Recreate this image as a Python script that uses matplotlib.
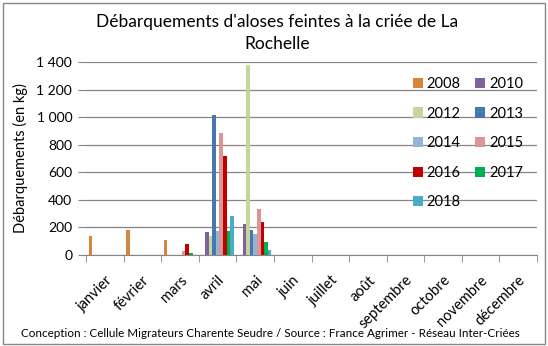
import numpy as np
import matplotlib
matplotlib.use('Agg')
from matplotlib import pyplot as plt
from matplotlib.patches import Rectangle

plt.rcParams['font.family'] = ['Lato', 'DejaVu Sans']

mois = ['janvier', 'février', 'mars', 'avril', 'mai', 'juin', 'juillet',
        'août', 'septembre', 'octobre', 'novembre', 'décembre']
annees = ['2008', '2010', '2012', '2013', '2014', '2015', '2016', '2017', '2018']
couleurs = ['#D9843B', '#7D6399', '#C3D69B', '#4A76B0', '#95B3D7',
            '#D99694', '#C00000', '#00B050', '#4BACC6']

# kg debarques par mois (jan -> dec), une liste par annee
v2008 = [140, 181, 110, 0, 0, 0, 0, 0, 0, 0, 0, 0]
v2010 = [0, 0, 0, 169, 227, 0, 0, 0, 0, 0, 0, 0]
v2012 = [0, 0, 0, 138, 1380, 0, 0, 0, 0, 0, 0, 0]
v2013 = [0, 0, 0, 1015, 181, 0, 0, 0, 0, 0, 0, 0]
v2014 = [0, 0, 0, 174, 155, 0, 0, 0, 0, 0, 0, 0]
v2015 = [0, 0, 31, 887, 334, 0, 0, 0, 0, 0, 0, 0]
v2016 = [0, 0, 82, 718, 239, 0, 0, 0, 0, 0, 0, 0]
v2017 = [0, 0, 17, 174, 94, 0, 0, 0, 0, 0, 0, 0]
v2018 = [0, 0, 0, 285, 36, 0, 0, 0, 0, 0, 0, 0]
series = [v2008, v2010, v2012, v2013, v2014, v2015, v2016, v2017, v2018]

fig = plt.figure(figsize=(5.48, 3.46), dpi=100)
ax = fig.add_axes([0.157, 0.263, 0.823, 0.558])

x = np.arange(len(mois))
n = len(series)
w = 1.0 / (n + 1.5)
handles = []
for i in range(n):
    pos = x - 0.5 + 0.75 * w + (i + 0.5) * w
    b = ax.bar(pos, series[i], width=w, color=couleurs[i], label=annees[i], zorder=3)
    handles.append(b)

ax.set_xlim(-0.5, len(mois) - 0.5)
ax.set_ylim(0, 1400)
ax.set_yticks(range(0, 1401, 200))
ax.set_yticklabels(['0', '200', '400', '600', '800', '1 000', '1 200', '1 400'], fontsize=10)
ax.yaxis.grid(True, color='#868686', linewidth=0.9, zorder=0)
ax.tick_params(axis='y', length=6, color='#868686', pad=4)

ax.set_xticks(x)
ax.set_xticklabels(mois, rotation=45, ha='right', rotation_mode='anchor', fontsize=10.5)
ax.set_xticks(np.arange(-0.5, len(mois)), minor=True)
ax.tick_params(axis='x', which='major', length=0, pad=13)
ax.tick_params(axis='x', which='minor', length=5, color='#868686')

for s in ['top', 'right', 'left']:
    ax.spines[s].set_visible(False)
ax.spines['bottom'].set_color('#868686')

ax.set_ylabel('Débarquements (en kg)', fontsize=10.5, labelpad=6)

order = [0, 2, 4, 6, 8, 1, 3, 5, 7]
leg = ax.legend([handles[k] for k in order], [annees[k] for k in order],
                ncol=2, loc='upper left', bbox_to_anchor=(0.695, 0.99),
                frameon=False, fontsize=10.5, handlelength=0.7, handleheight=0.7,
                handletextpad=0.25, columnspacing=1.0, labelspacing=1.07)

fig.text(0.506, 0.905, "Débarquements d'aloses feintes à la criée de La\nRochelle",
         ha='center', va='center', fontsize=12.5, linespacing=1.45)
fig.text(0.493, 0.035, 'Conception : Cellule Migrateurs Charente Seudre / Source : France Agrimer - Réseau Inter-Criées',
         ha='center', va='center', fontsize=8.4)

fig.patches.append(Rectangle((0.006, 0.006), 0.988, 0.985, transform=fig.transFigure,
                             fill=False, edgecolor='#868686', linewidth=1))

fig.savefig('out.png', dpi=100)
